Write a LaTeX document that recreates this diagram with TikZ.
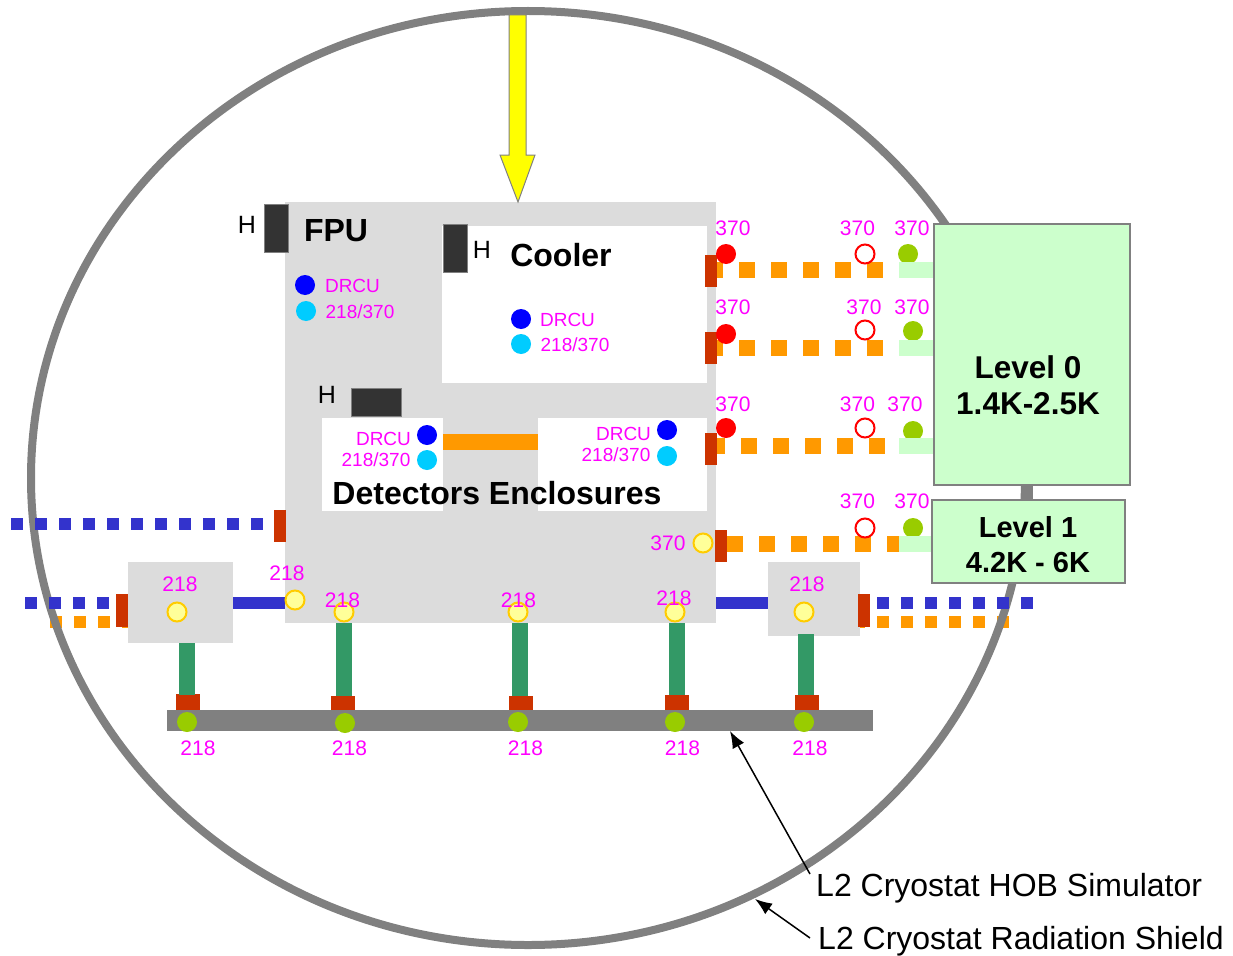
\documentclass[tikz,border=0pt]{standalone}
\usepackage{fontspec}
\setmainfont{Liberation Sans}
\usetikzlibrary{arrows.meta}
\definecolor{fpugray}{HTML}{DCDCDC}
\definecolor{ringgray}{HTML}{808080}
\definecolor{heatblack}{HTML}{333333}
\definecolor{strapred}{HTML}{CC3300}
\definecolor{lineorange}{HTML}{FF9900}
\definecolor{lineblue}{HTML}{3333CC}
\definecolor{levelgreen}{HTML}{CCFFCC}
\definecolor{barsgreen}{HTML}{339966}
\definecolor{sensgreen}{HTML}{99CC00}
\definecolor{sensyellow}{HTML}{FFFF99}
\definecolor{sensring}{HTML}{FFCC00}
\definecolor{drcucyan}{HTML}{00CCFF}
\definecolor{labelpink}{HTML}{FF00FF}
\definecolor{purered}{HTML}{FF0000}
\definecolor{pureblue}{HTML}{0000FF}
\definecolor{pureyellow}{HTML}{FFFF00}
\tikzset{
  num/.style={text=labelpink, inner sep=0pt, font=\fontsize{21}{24}\selectfont},
  drcu/.style={text=labelpink, inner sep=0pt, font=\fontsize{19}{22}\selectfont},
  heatlabel/.style={inner sep=0pt, font=\fontsize{25}{28}\selectfont},
  title/.style={inner sep=0pt, font=\fontsize{32}{36}\selectfont\bfseries},
  callout/.style={inner sep=0pt, anchor=west, font=\fontsize{32}{36}\selectfont},
  leveltext/.style={inner sep=0pt, align=center},
  sens/.style={circle, minimum size=20pt, inner sep=0pt},
  heater/.style={fill=heatblack, draw=ringgray, line width=1pt},
  strap/.style={fill=strapred},
  orangedash/.style={lineorange, line width=16pt, dash pattern=on 16pt off 16pt},
  bluedash/.style={lineblue, line width=12pt, dash pattern=on 12pt off 12pt},
  lowdash/.style={lineorange, line width=12pt, dash pattern=on 12pt off 12pt},
  levelbox/.style={fill=levelgreen, draw=ringgray, line width=2pt},
}
\begin{document}
\begin{tikzpicture}[x=1pt, y=-1pt]
    \useasboundingbox (0,0) rectangle (1233,955);
    \def\hline{603}
    \def\lline{622}
    \coordinate (lowla) at (50,\lline);
    \coordinate (lowlb) at (128,\lline);
    \coordinate (lowra) at (853,\lline);
    \coordinate (lowrb) at (1009,\lline);
    \draw[lowdash] (lowla) -- (lowlb);
    \draw[lowdash] (lowra) -- (lowrb);
    \draw[ringgray, line width=8pt] (528,478) ellipse (497 and 467);

    \coordinate (blueta) at (11,524);
    \coordinate (bluetb) at (263,524);
    \coordinate (bluela) at (25,\hline);
    \coordinate (bluelb) at (116,\hline);
    \coordinate (bluera) at (877,\hline);
    \coordinate (bluerb) at (1033,\hline);
    \draw[bluedash] (blueta) -- (bluetb);
    \draw[bluedash] (bluela) -- (bluelb);
    \draw[bluedash] (bluera) -- (bluerb);
    \draw[lineblue, line width=12pt] (233,\hline) -- (285,\hline);
    \draw[lineblue, line width=12pt] (716,\hline) -- (768,\hline);

    \fill[fpugray] (285,202) rectangle (716,623);
    \fill[white] (442,226) rectangle (707,383);
    \fill[white] (322,418) rectangle (443,511);
    \fill[white] (538,418) rectangle (707,511);
    \fill[lineorange] (443,434) rectangle (538,450);
    \fill[fpugray] (128,562) rectangle (233,643);
    \fill[fpugray] (768,562) rectangle (860,636);

    \draw[heater] (264,204) rectangle (288,252);
    \draw[heater] (443,224) rectangle (467,272);
    \draw[heater] (351,388) rectangle (401,416);

    \draw[fill=pureyellow, draw=ringgray, line width=1pt]
      (509,15) -- (526,15) -- (526,155) -- (535,155) -- (518,202)
      -- (500,155) -- (509,155) -- cycle;

    \draw[levelbox] (934,224) rectangle (1130,485);
    \fill[ringgray] (1025,485) rectangle (1033,500);
    \draw[levelbox] (932,500) rectangle (1125,583);

    \foreach \y in {270,348}
      \draw[orangedash] (707,\y) -- (883,\y);
    \draw[orangedash] (709,446) -- (885,446);
    \draw[orangedash] (727,544) -- (903,544);

    \foreach \a/\b/\c/\d in {705/255/717/287, 705/332/717/364, 705/433/717/465,
      715/530/727/562, 274/510/286/542, 116/594/128/627, 858/594/870/627,
      176/694/200/711, 331/696/355/712, 509/696/533/712, 665/695/689/711, 795/695/819/711}
      \fill[strap] (\a,\b) rectangle (\c,\d);

    \foreach \a/\b/\d in {179/643/695, 336/623/696, 512/623/696, 669/623/695, 798/634/695}
      \fill[barsgreen] (\a,\b) rectangle (\a+16,\d);

    \fill[ringgray] (167,710) rectangle (873,731);

    \foreach \i/\x/\y in {a/726/254, b/726/334, c/726/428}
      \node[sens, fill=purered] (hot\i) at (\x,\y) {};
    \foreach \i/\x/\y in {a/865/254, b/865/330, c/865/428, d/865/528}
      \node[sens, fill=white, draw=purered, line width=2pt, minimum size=19pt] (open\i) at (\x,\y) {};
    \foreach \i/\x/\y in {a/908/254, b/913/331, c/913/431, d/913/528, e/187/722, f/345/723, g/518/722, h/675/722, i/804/722}
      \node[sens, fill=sensgreen] (green\i) at (\x,\y) {};
    \foreach \t/\b in {262/278, 340/356, 438/454}
      \fill[levelgreen] (899,\t) rectangle (933,\b);
    \fill[levelgreen] (899,536) rectangle (931,552);
    \foreach \i/\x/\y in {a/177/612, b/295/600, c/344/612, d/518/612, e/675/612, f/804/612, g/703/543}
      \node[sens, fill=sensyellow, draw=sensring, line width=2pt, minimum size=19pt] (warm\i) at (\x,\y) {};
    \foreach \i/\x/\y in {a/305/285, b/521/319, c/427/435, d/667/430}
      \node[sens, fill=pureblue] (drcu\i) at (\x,\y) {};
    \foreach \i/\x/\y in {a/306/311, b/521/344, c/427/460, d/667/456}
      \node[sens, fill=drcucyan] (cyan\i) at (\x,\y) {};

    \foreach \i/\x/\y in {a/352.5/285.5, b/567.5/319.5, c/383.5/438.5, d/623.5/433.5}
      \node[drcu] (name\i) at (\x,\y) {DRCU};
    \foreach \i/\x/\y in {a/360/311.5, b/575/344.5, c/376/459.5, d/616/454.5}
      \node[drcu] (range\i) at (\x,\y) {218/370};
    \foreach \i/\x/\y in {a/733/228, b/857.5/228, c/912/228, d/733/307, e/864/307, f/912/307,
      g/733/404, h/857.5/404, i/905/404, j/857.5/501.5, k/912/501.5, l/668/543}
      \node[num] (tc\i) at (\x,\y) {370};
    \foreach \i/\x/\y in {a/180/584.5, b/287/573.5, c/342.5/600.5, d/518.5/600.5, e/674/598.5, f/807/584.5,
      g/198/748.5, h/349.5/748.5, i/525.5/748.5, j/682.5/748.5, k/810/748.5}
      \node[num] (pt\i) at (\x,\y) {218};

    \node[heatlabel] (heata) at (247,225) {H};
    \node[heatlabel] (heatb) at (482,250) {H};
    \node[heatlabel] (heatc) at (327,395) {H};
    \node[title] (fpu) at (336,231) {FPU};
    \node[title] (cooler) at (561,255) {Cooler};
    \node[title] (encl) at (497,493) {Detectors Enclosures};
    \node[leveltext, font=\fontsize{31.5}{36}\selectfont\bfseries] (levelzero) at (1028,385) {Level 0\\1.4K-2.5K};
    \node[leveltext, font=\fontsize{29}{35}\selectfont\bfseries] (levelone) at (1028,545) {Level 1\\4.2K - 6K};

    \node[callout] (hob) at (816,888) {L2 Cryostat HOB Simulator};
    \node[callout] (shield) at (818,941) {L2 Cryostat Radiation Shield};
    \coordinate (hobend) at (730,731);
    \coordinate (hobstart) at (810,874);
    \coordinate (shieldend) at (755,899);
    \coordinate (shieldstart) at (810,938);
    \draw[-{Latex[length=17pt,width=13pt]}, line width=1.5pt] (hobstart) -- (hobend);
    \draw[-{Latex[length=17pt,width=13pt]}, line width=1.5pt] (shieldstart) -- (shieldend);
  \end{tikzpicture}
\end{document}
